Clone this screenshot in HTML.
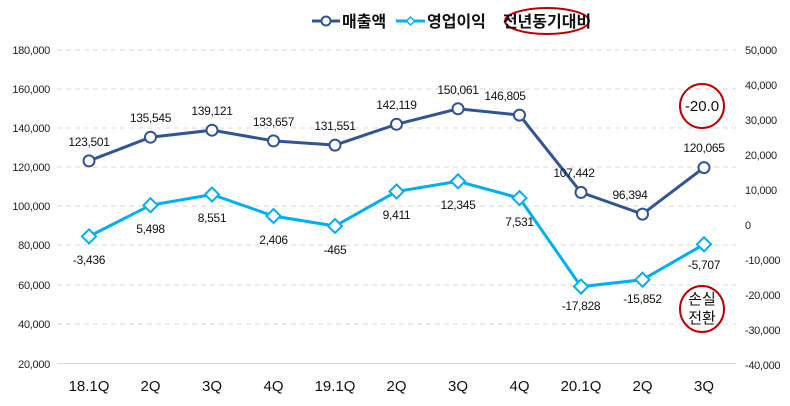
<!DOCTYPE html>
<html><head><meta charset="utf-8"><style>
body{margin:0;background:#fff}
svg{display:block;font-family:"Liberation Sans","Noto Sans CJK KR",sans-serif}
</style></head><body>
<svg width="790" height="406" viewBox="0 0 790 406" xmlns="http://www.w3.org/2000/svg">
<g stroke="#d9d9d9" stroke-dasharray="5,4" stroke-width="1">
<line x1="57" y1="50" x2="736" y2="50"/><line x1="57" y1="89" x2="736" y2="89"/>
<line x1="57" y1="128" x2="736" y2="128"/><line x1="57" y1="167" x2="736" y2="167"/>
<line x1="57" y1="206" x2="736" y2="206"/><line x1="57" y1="245" x2="736" y2="245"/>
<line x1="57" y1="285" x2="736" y2="285"/><line x1="57" y1="324" x2="736" y2="324"/>
</g>
<line x1="57" y1="363.5" x2="736" y2="363.5" stroke="#d9d9d9"/>
<g font-size="11" fill="#222" text-anchor="end" letter-spacing="-0.3">
<text x="50" y="54">180,000</text><text x="50" y="93">160,000</text><text x="50" y="132">140,000</text>
<text x="50" y="171">120,000</text><text x="50" y="210">100,000</text><text x="50" y="249">80,000</text>
<text x="50" y="289">60,000</text><text x="50" y="328">40,000</text><text x="50" y="368">20,000</text>
</g>
<g font-size="11" fill="#222" text-anchor="start" letter-spacing="-0.3">
<text x="745" y="54">50,000</text><text x="745" y="89">40,000</text><text x="745" y="124">30,000</text>
<text x="745" y="159">20,000</text><text x="745" y="194">10,000</text><text x="745" y="229">0</text>
<text x="745" y="264">-10,000</text><text x="745" y="299">-20,000</text><text x="745" y="334">-30,000</text>
<text x="745" y="369">-40,000</text>
</g>
<g font-size="15" fill="#111" text-anchor="middle">
<text x="89" y="391">18.1Q</text><text x="150.5" y="391">2Q</text><text x="212" y="391">3Q</text>
<text x="273.5" y="391">4Q</text><text x="335" y="391">19.1Q</text><text x="396.5" y="391">2Q</text>
<text x="458" y="391">3Q</text><text x="519.5" y="391">4Q</text><text x="581" y="391">20.1Q</text>
<text x="642.5" y="391">2Q</text><text x="704" y="391">3Q</text>
</g>
<polyline fill="none" stroke="#2f5597" stroke-width="3" points="89,160.9 150.5,137.2 212,130.2 273.5,140.9 335,145.1 396.5,124.3 458,108.8 519.5,115.1 581,192.4 642.5,214.1 704,167.6"/>
<g fill="#fff" stroke="#2f5597" stroke-width="2">
<circle cx="89" cy="160.9" r="5.5"/><circle cx="150.5" cy="137.2" r="5.5"/><circle cx="212" cy="130.2" r="5.5"/>
<circle cx="273.5" cy="140.9" r="5.5"/><circle cx="335" cy="145.1" r="5.5"/><circle cx="396.5" cy="124.3" r="5.5"/>
<circle cx="458" cy="108.8" r="5.5"/><circle cx="519.5" cy="115.1" r="5.5"/><circle cx="581" cy="192.4" r="5.5"/>
<circle cx="642.5" cy="214.1" r="5.5"/><circle cx="704" cy="167.6" r="5.5"/>
</g>
<polyline fill="none" stroke="#00b0f0" stroke-width="3" points="89,236.4 150.5,205.2 212,194.5 273.5,216 335,226 396.5,191.5 458,181.3 519.5,198.1 581,286.6 642.5,279.7 704,244.3"/>
<g fill="#fff" stroke="#00b0f0" stroke-width="2">
<path d="M89,229.4l7,7l-7,7l-7,-7z"/><path d="M150.5,198.2l7,7l-7,7l-7,-7z"/><path d="M212,187.5l7,7l-7,7l-7,-7z"/>
<path d="M273.5,209l7,7l-7,7l-7,-7z"/><path d="M335,219l7,7l-7,7l-7,-7z"/><path d="M396.5,184.5l7,7l-7,7l-7,-7z"/>
<path d="M458,174.3l7,7l-7,7l-7,-7z"/><path d="M519.5,191.1l7,7l-7,7l-7,-7z"/><path d="M581,279.6l7,7l-7,7l-7,-7z"/>
<path d="M642.5,272.7l7,7l-7,7l-7,-7z"/><path d="M704,237.3l7,7l-7,7l-7,-7z"/>
</g>
<g font-size="12" fill="#111" text-anchor="middle" letter-spacing="-0.3">
<text x="89" y="146">123,501</text><text x="150.5" y="122">135,545</text><text x="212" y="115">139,121</text>
<text x="273.5" y="126">133,657</text><text x="335" y="130">131,551</text><text x="396.5" y="109">142,119</text>
<text x="458" y="94">150,061</text><text x="505" y="100">146,805</text><text x="574" y="177">107,442</text>
<text x="630" y="199">96,394</text><text x="704" y="152">120,065</text>
<text x="89" y="264">-3,436</text><text x="150.5" y="233">5,498</text><text x="212" y="222">8,551</text>
<text x="273.5" y="244">2,406</text><text x="335" y="254">-465</text><text x="396.5" y="219">9,411</text>
<text x="458" y="209">12,345</text><text x="519.5" y="226">7,531</text><text x="581" y="310">-17,828</text>
<text x="642.5" y="303">-15,852</text><text x="704" y="269">-5,707</text>
</g>
<ellipse cx="702" cy="106" rx="22" ry="22" fill="none" stroke="#c00000" stroke-width="2"/>
<text x="702" y="111" font-size="15" text-anchor="middle" fill="#111">-20.0</text>
<ellipse cx="702" cy="309" rx="22" ry="23" fill="none" stroke="#c00000" stroke-width="2"/>
<text x="702" y="304" font-size="15" text-anchor="middle" fill="#111">손실</text>
<text x="702" y="323" font-size="15" text-anchor="middle" fill="#111">전환</text>
<line x1="312" y1="21" x2="340" y2="21" stroke="#2f5597" stroke-width="3"/>
<circle cx="326" cy="21" r="4.5" fill="#fff" stroke="#2f5597" stroke-width="2"/>
<text x="342" y="27" font-size="16" font-weight="bold" fill="#111">매출액</text>
<line x1="396" y1="21" x2="425" y2="21" stroke="#00b0f0" stroke-width="3"/>
<path d="M410.5,17l4,4l-4,4l-4,-4z" fill="#fff" stroke="#00b0f0" stroke-width="1.5"/>
<text x="427" y="27" font-size="16" font-weight="bold" fill="#111">영업이익</text>
<ellipse cx="547" cy="21" rx="42" ry="13" fill="none" stroke="#c00000" stroke-width="2"/>
<text x="547" y="27" font-size="16" font-weight="bold" text-anchor="middle" fill="#111">전년동기대비</text>
</svg>
</body></html>
